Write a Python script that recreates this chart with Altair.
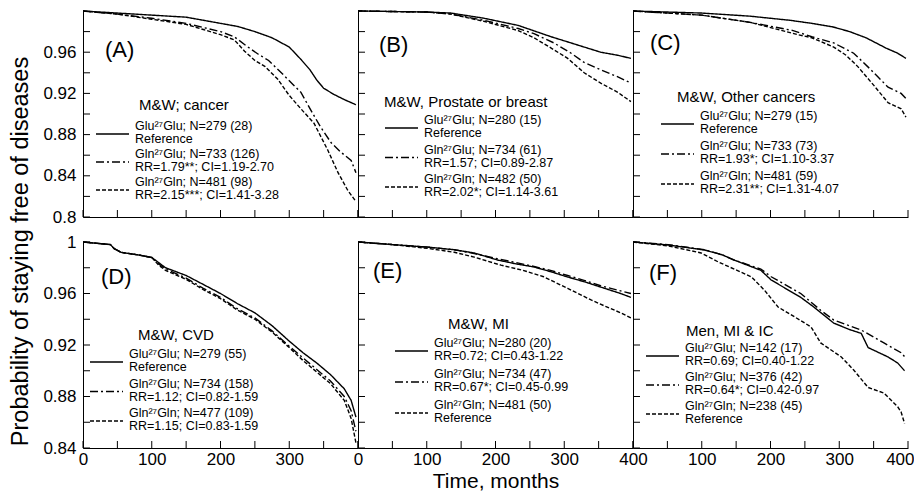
import altair as alt
import pandas as pd

FONT = "Liberation Sans"
W, H = 275, 206

SERIES = ["Glu27Glu", "Gln27Glu", "Gln27Gln"]
DASHES = [[1, 0], [8, 3, 2, 3], [4, 2]]

# ---------------- data ----------------
A_glu_t = [0, 50, 100, 150, 200, 225, 250, 275, 300, 317, 330, 340, 350, 365, 380, 397]
A_glu_p = [1.0, 0.998, 0.996, 0.994, 0.988, 0.985, 0.980, 0.974, 0.965, 0.953, 0.943, 0.933, 0.925, 0.919, 0.914, 0.909]
A_glnglu_t = [0, 50, 100, 150, 175, 200, 220, 240, 255, 270, 290, 305, 317, 332, 345, 361, 375, 390, 397]
A_glnglu_p = [1.0, 0.997, 0.993, 0.988, 0.984, 0.980, 0.975, 0.965, 0.958, 0.952, 0.939, 0.929, 0.921, 0.903, 0.888, 0.872, 0.863, 0.855, 0.843]
A_glngln_t = [0, 50, 100, 150, 175, 200, 220, 235, 250, 265, 283, 300, 317, 336, 356, 371, 385, 397]
A_glngln_p = [1.0, 0.997, 0.992, 0.987, 0.982, 0.977, 0.972, 0.961, 0.952, 0.946, 0.934, 0.918, 0.905, 0.891, 0.865, 0.843, 0.826, 0.815]

B_glu_t = [0, 100, 135, 183, 233, 281, 329, 353, 378, 397]
B_glu_p = [1.0, 0.999, 0.998, 0.993, 0.986, 0.975, 0.965, 0.960, 0.957, 0.954]
B_glnglu_t = [0, 100, 135, 183, 233, 256, 285, 310, 329, 353, 378, 397]
B_glnglu_p = [1.0, 0.999, 0.997, 0.991, 0.983, 0.978, 0.969, 0.959, 0.950, 0.943, 0.936, 0.930]
B_glngln_t = [0, 100, 135, 183, 233, 256, 281, 305, 329, 353, 378, 397]
B_glngln_p = [1.0, 0.999, 0.997, 0.990, 0.981, 0.974, 0.964, 0.954, 0.940, 0.930, 0.921, 0.912]

C_glu_t = [0, 100, 170, 228, 260, 291, 315, 339, 368, 385, 397]
C_glu_p = [1.0, 0.998, 0.995, 0.991, 0.988, 0.9845, 0.980, 0.974, 0.964, 0.959, 0.954]
C_glnglu_t = [0, 100, 170, 233, 260, 292, 321, 346, 371, 390, 397]
C_glnglu_p = [1.0, 0.996, 0.989, 0.981, 0.975, 0.969, 0.959, 0.943, 0.926, 0.920, 0.915]
C_glngln_t = [0, 100, 170, 240, 260, 292, 310, 327, 350, 371, 390, 397]
C_glngln_p = [1.0, 0.996, 0.989, 0.977, 0.974, 0.965, 0.957, 0.946, 0.928, 0.911, 0.905, 0.897]

D_t = [0, 20, 40, 45, 55, 80, 100, 110, 120, 150, 175, 200, 225, 250, 275, 300, 320, 340, 360, 380, 390, 397]
D_glu_p = [1.0, 0.999, 0.998, 0.995, 0.992, 0.990, 0.988, 0.984, 0.980, 0.974, 0.967, 0.960, 0.952, 0.945, 0.935, 0.923, 0.914, 0.906, 0.897, 0.886, 0.877, 0.864]
D_glnglu_p = [1.0, 0.999, 0.998, 0.995, 0.992, 0.990, 0.988, 0.983, 0.979, 0.972, 0.964, 0.957, 0.948, 0.941, 0.931, 0.919, 0.910, 0.901, 0.892, 0.880, 0.869, 0.853]
D_glngln_p = [1.0, 0.999, 0.998, 0.995, 0.992, 0.990, 0.988, 0.982, 0.978, 0.971, 0.963, 0.956, 0.947, 0.940, 0.930, 0.918, 0.908, 0.899, 0.890, 0.877, 0.863, 0.844]

E_t = [0, 50, 102, 140, 169, 203, 230, 256, 280, 305, 330, 353, 382, 397]
E_glu_p = [1.0, 0.998, 0.996, 0.994, 0.9915, 0.986, 0.983, 0.9806, 0.977, 0.9728, 0.969, 0.965, 0.960, 0.957]
E_glnglu_p = [1.0, 0.998, 0.996, 0.994, 0.991, 0.987, 0.984, 0.981, 0.978, 0.974, 0.970, 0.966, 0.962, 0.960]
E_glngln_t = [0, 50, 102, 140, 169, 208, 240, 270, 305, 339, 360, 382, 397]
E_glngln_p = [1.0, 0.998, 0.995, 0.992, 0.9883, 0.982, 0.978, 0.973, 0.964, 0.955, 0.950, 0.945, 0.941]

F_glu_t = [0, 51, 104, 130, 147, 186, 201, 244, 263, 292, 315, 332, 342, 371, 385, 395]
F_glu_p = [1.0, 0.9977, 0.9938, 0.990, 0.986, 0.978, 0.9705, 0.957, 0.9495, 0.937, 0.932, 0.929, 0.918, 0.9107, 0.906, 0.900]
F_glnglu_t = [0, 51, 104, 130, 147, 186, 201, 244, 273, 292, 332, 365, 390, 395]
F_glnglu_p = [1.0, 0.998, 0.994, 0.990, 0.986, 0.979, 0.973, 0.960, 0.947, 0.9394, 0.9316, 0.9216, 0.914, 0.911]
F_glngln_t = [0, 51, 99, 124, 172, 191, 211, 244, 259, 273, 303, 321, 342, 365, 385, 390, 395]
F_glngln_p = [1.0, 0.997, 0.9915, 0.9845, 0.973, 0.9627, 0.9495, 0.939, 0.934, 0.9216, 0.9107, 0.9006, 0.887, 0.8827, 0.872, 0.868, 0.859]

PANEL_LABELS = ["(A)", "(B)", "(C)", "(D)", "(E)", "(F)"]
LEGEND_TITLES = ["M&W; cancer", "M&W, Prostate or breast", "M&W, Other cancers",
                 "M&W, CVD", "M&W, MI", "Men, MI & IC"]
LEGEND_TEXT = [
    [["Glu²⁷Glu; N=279 (28)", "Reference"], ["Gln²⁷Glu; N=733 (126)", "RR=1.79**; CI=1.19-2.70"], ["Gln²⁷Gln; N=481 (98)", "RR=2.15***; CI=1.41-3.28"]],
    [["Glu²⁷Glu; N=280 (15)", "Reference"], ["Gln²⁷Glu; N=734 (61)", "RR=1.57; CI=0.89-2.87"], ["Gln²⁷Gln; N=482 (50)", "RR=2.02*; CI=1.14-3.61"]],
    [["Glu²⁷Glu; N=279 (15)", "Reference"], ["Gln²⁷Glu; N=733 (73)", "RR=1.93*; CI=1.10-3.37"], ["Gln²⁷Gln; N=481 (59)", "RR=2.31**; CI=1.31-4.07"]],
    [["Glu²⁷Glu; N=279 (55)", "Reference"], ["Gln²⁷Glu; N=734 (158)", "RR=1.12; CI=0.82-1.59"], ["Gln²⁷Gln; N=477 (109)", "RR=1.15; CI=0.83-1.59"]],
    [["Glu²⁷Glu; N=280 (20)", "RR=0.72; CI=0.43-1.22"], ["Gln²⁷Glu; N=734 (47)", "RR=0.67*; CI=0.45-0.99"], ["Gln²⁷Gln; N=481 (50)", "Reference"]],
    [["Glu²⁷Glu; N=142 (17)", "RR=0.69; CI=0.40-1.22"], ["Gln²⁷Glu; N=376 (42)", "RR=0.64*; CI=0.42-0.97"], ["Gln²⁷Gln; N=238 (45)", "Reference"]],
]

SERIES_DATA = [
    [(A_glu_t, A_glu_p), (A_glnglu_t, A_glnglu_p), (A_glngln_t, A_glngln_p)],
    [(B_glu_t, B_glu_p), (B_glnglu_t, B_glnglu_p), (B_glngln_t, B_glngln_p)],
    [(C_glu_t, C_glu_p), (C_glnglu_t, C_glnglu_p), (C_glngln_t, C_glngln_p)],
    [(D_t, D_glu_p), (D_t, D_glnglu_p), (D_t, D_glngln_p)],
    [(E_t, E_glu_p), (E_t, E_glnglu_p), (E_glngln_t, E_glngln_p)],
    [(F_glu_t, F_glu_p), (F_glnglu_t, F_glnglu_p), (F_glngln_t, F_glngln_p)],
]

X_TICKS = [0, 50, 100, 150, 200, 250, 300, 350, 400]
Y_TICKS_TOP = [0.80, 0.82, 0.84, 0.86, 0.88, 0.90, 0.92, 0.94, 0.96, 0.98]
Y_TICKS_BOT = [0.84, 0.86, 0.88, 0.90, 0.92, 0.94, 0.96, 0.98, 1.0]
Y_LABELS_TOP = [0.80, 0.84, 0.88, 0.92, 0.96]
Y_LABELS_BOT = [0.84, 0.88, 0.92, 0.96, 1.0]
X_LABELS_BOT = [[0, 100, 200, 300], [0, 100, 200, 300, 400], [100, 200, 300, 400]]

# ---------------- layout (pixels inside each panel) ----------------
LABEL_POS = [(22, 46), (21, 41), (17, 39), (18, 42), (15, 36), (16, 38)]
# title_x, title_y, text_x, first_line_y, entry_spacing
LEG_POS = [(56, 99, 52, 119, 28), (26, 96, 66, 113, 29.5), (44, 91, 67, 109, 30),
           (55, 98, 46, 116, 29.5), (90, 87, 76, 105, 31), (53, 94, 52, 110, 29)]
LINE_GAP = 13
YTITLE_SIZE = 23.5


def txt_layer(s, x, y, size):
    return alt.Chart(pd.DataFrame({"s": [s]})).mark_text(
        align="left", baseline="alphabetic", font=FONT, fontSize=size, color="black"
    ).encode(x=alt.value(x), y=alt.value(y), text="s:N")


def make_panel(i):
    row, col = divmod(i, 3)
    frames = []
    for s, (t, v) in zip(SERIES, SERIES_DATA[i]):
        frames.append(pd.DataFrame({"t": t, "p": v, "s": s}))
    df = pd.concat(frames, ignore_index=True)

    ydom = [0.8, 1.0] if row == 0 else [0.84, 1.0]
    xscale = alt.Scale(domain=[0, 400], nice=False, zero=False)
    yscale = alt.Scale(domain=ydom, nice=False, zero=False)

    ax_common = dict(domainColor="black", domainWidth=1, ticks=False, grid=False,
                     labelFont=FONT, labelFontSize=17, labelColor="black",
                     titleFont=FONT, titleFontWeight="normal",
                     titleColor="black", labelOverlap=False)
    if row == 1:
        flush = dict(labelFlush=True, labelFlushOffset=6) if col == 2 else dict(labelFlush=False)
        xaxis = alt.Axis(values=X_LABELS_BOT[col], format="d", labelPadding=3.5,
                         title="Time, months" if col == 1 else None, titlePadding=3,
                         titleFontSize=21, **flush, **ax_common)
    else:
        xaxis = alt.Axis(labels=False, title=None, labelFlush=False, **ax_common)

    if col == 0:
        if row == 1:
            yaxis = alt.Axis(values=Y_LABELS_BOT, format=".2~f", labelPadding=7,
                             title="Probability of staying free of diseases",
                             titleFontSize=YTITLE_SIZE,
                             titleAngle=270, titleAlign="center", titleBaseline="bottom",
                             titleY=9, titleX=-74 + YTITLE_SIZE, labelFlush=False, **ax_common)
        else:
            yaxis = alt.Axis(values=Y_LABELS_TOP, format=".2~f", labelPadding=7,
                             title=None, labelFlush=False, **ax_common)
    else:
        yaxis = alt.Axis(labels=False, title=None, labelFlush=False, **ax_common)

    xenc = alt.X("t:Q", scale=xscale, axis=xaxis)
    yenc = alt.Y("p:Q", scale=yscale, axis=yaxis)

    lines = alt.Chart(df).mark_line(color="black", strokeWidth=1.4).encode(
        x=xenc, y=yenc,
        strokeDash=alt.StrokeDash("s:N", scale=alt.Scale(domain=SERIES, range=DASHES), legend=None),
    )
    xt = alt.Chart(pd.DataFrame({"t": X_TICKS})).mark_rule(color="black", strokeWidth=1).encode(
        x=xenc, y=alt.value(H), y2=alt.value(H - 7))
    yt_vals = Y_TICKS_TOP if row == 0 else Y_TICKS_BOT
    yt = alt.Chart(pd.DataFrame({"p": yt_vals})).mark_rule(color="black", strokeWidth=1).encode(
        y=yenc, x=alt.value(0), x2=alt.value(7))

    layers = [lines, xt, yt]
    lx, ly = LABEL_POS[i]
    layers.append(txt_layer(PANEL_LABELS[i], lx, ly, 22))
    tx, ty, px, l1, sp = LEG_POS[i]
    layers.append(txt_layer(LEGEND_TITLES[i], tx, ty, 15))
    for k, (a, b) in enumerate(LEGEND_TEXT[i]):
        y1 = l1 + k * sp
        layers.append(txt_layer(a, px, y1, 12.5))
        layers.append(txt_layer(b, px, y1 + LINE_GAP, 12.5))
        layers.append(
            alt.Chart(pd.DataFrame({"s": [SERIES[k]]})).mark_rule(
                color="black", strokeWidth=1.4, strokeDash=DASHES[k]
            ).encode(x=alt.value(px - 39), x2=alt.value(px - 6), y=alt.value(y1 + 4))
        )
    return alt.layer(*layers).properties(width=W, height=H)


panels = [make_panel(i) for i in range(6)]
chart = alt.concat(*panels, columns=3, spacing={"row": 25, "column": 0}, bounds="flush").properties(
    padding={"left": 0, "top": 0, "right": 0, "bottom": 0}
).configure_view(stroke=None)

chart.save("out.html", embed_options={"renderer": "svg", "actions": False})
